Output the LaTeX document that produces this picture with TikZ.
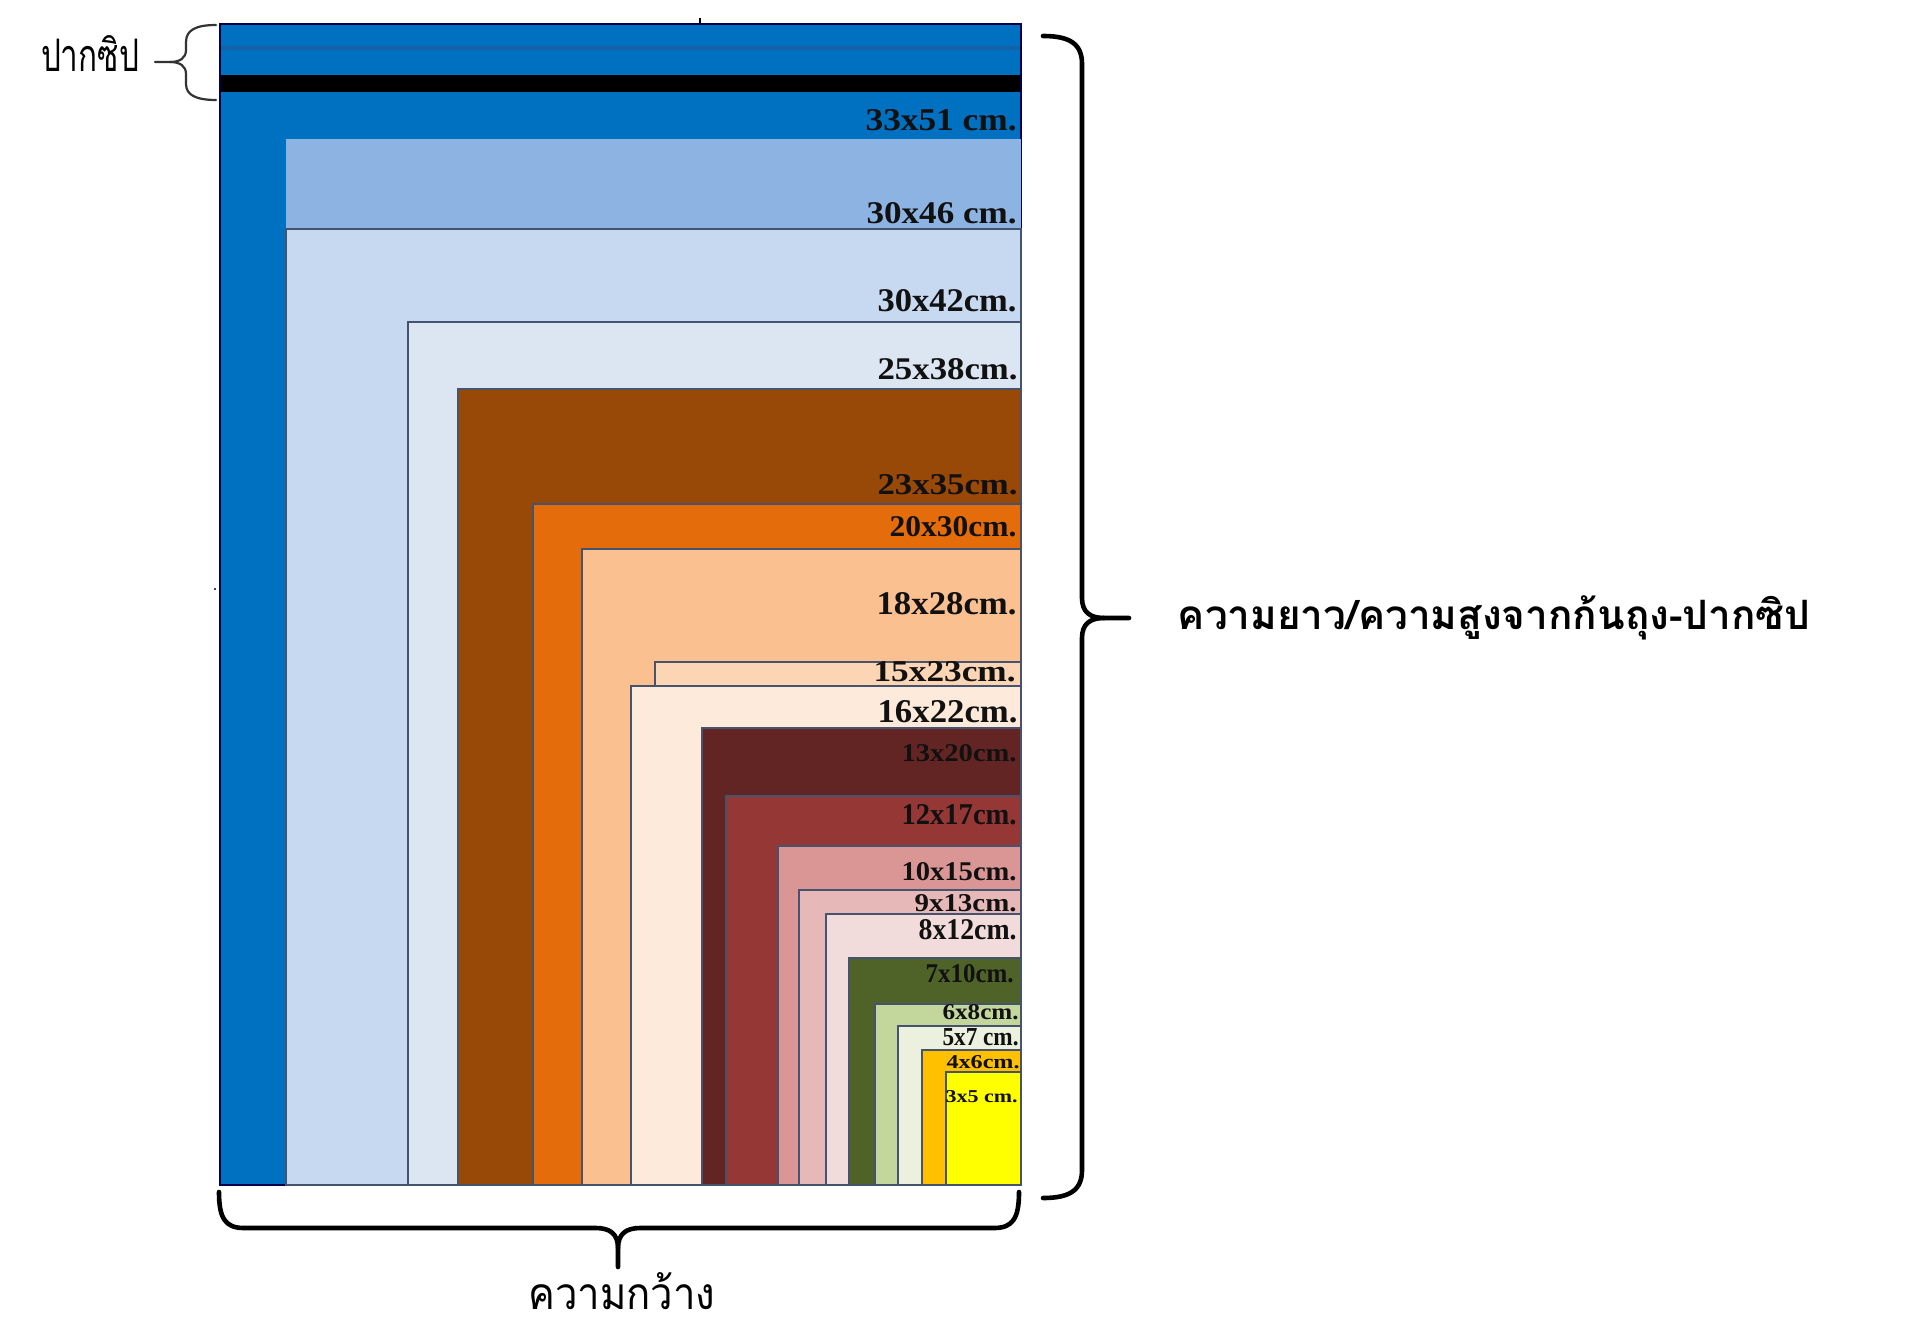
\documentclass[tikz,border=0pt]{standalone}
\usepackage{fontspec}
\usepackage{graphicx}
\setmainfont{Liberation Serif}
\newfontfamily\thaifont[Script=Thai]{Loma}
\definecolor{cA}{HTML}{0070C0}
\definecolor{cB}{HTML}{8DB3E2}
\definecolor{cC}{HTML}{C6D9F1}
\definecolor{cD}{HTML}{DCE6F2}
\definecolor{cE}{HTML}{984807}
\definecolor{cF}{HTML}{E46C0A}
\definecolor{cG}{HTML}{FAC090}
\definecolor{cH}{HTML}{FCD5B4}
\definecolor{cI}{HTML}{FDEADA}
\definecolor{cJ}{HTML}{632523}
\definecolor{cK}{HTML}{953735}
\definecolor{cL}{HTML}{D99694}
\definecolor{cM}{HTML}{E6B9B8}
\definecolor{cN}{HTML}{F2DCDB}
\definecolor{cO}{HTML}{4F6228}
\definecolor{cP}{HTML}{C3D69B}
\definecolor{cQ}{HTML}{EBF1DE}
\definecolor{cR}{HTML}{FFC000}
\definecolor{cS}{HTML}{FFFF00}
\definecolor{edgec}{HTML}{46536E}
\definecolor{zipline}{HTML}{1463A8}
\definecolor{labelc}{HTML}{111111}
\newcommand\szlbl[3]{\resizebox{#1pt}{#2pt}{\bfseries #3}}
\begin{document}
\begin{tikzpicture}[x=0.5pt,y=-0.5pt,
  bagbox/.style={fill=#1, draw=edgec, line width=0.6pt},
  lbl/.style={anchor=east, inner sep=0pt, text=labelc},
  bracec/.style={draw=black, line width=2.3pt, line cap=round, line join=round},
  smallbrace/.style={draw=black!80, line width=1.1pt, line cap=round}]
\useasboundingbox (0,0) rectangle (1920,1343);
\fill[white] (0,0) rectangle (1920,1343);
% nested bag sizes
\filldraw[fill=cA, draw=black!70!blue, line width=0.7pt] (220,24) rectangle (1021,1185);
\fill[cB] (286,139) rectangle (1021,1185);
\foreach \l/\t/\c in {286/229/cC, 408/322/cD, 458/389/cE, 533/504/cF, 582/549/cG,
  655/662/cH, 631/686/cI, 702/728/cJ, 726/796/cK, 778/846/cL, 799/890/cM,
  826/914/cN, 849/958/cO, 875/1004/cP, 898/1026/cQ, 922/1050/cR, 946/1072/cS}
  {\filldraw[bagbox=\c] (\l,\t) rectangle (1021,1185);}
% zip
\fill[zipline] (221,46) rectangle (1020,50);
\fill[black] (221,75) rectangle (1020,92);
\draw[black, line width=0.6pt] (700,18) -- (700,24);
\fill[black] (215,589) circle (1.2);
% size labels
\node[lbl] (l1) at (1017,120) {\szlbl{75.5}{10.5}{33x51 cm.}};
\node[lbl] (l2) at (1017,213) {\szlbl{75}{10.5}{30x46 cm.}};
\node[lbl] (l3) at (1017,301) {\szlbl{69.5}{11}{30x42cm.}};
\node[lbl] (l4) at (1018,369) {\szlbl{70}{10.5}{25x38cm.}};
\node[lbl] (l5) at (1018,485) {\szlbl{70}{10}{23x35cm.}};
\node[lbl] (l6) at (1017,527) {\szlbl{63.5}{10}{20x30cm.}};
\node[lbl] (l7) at (1017,604) {\szlbl{70}{11}{18x28cm.}};
\node[lbl] (l8) at (1016,672) {\szlbl{71}{10}{15x23cm.}};
\node[lbl] (l9) at (1018,712) {\szlbl{70}{11}{16x22cm.}};
\node[lbl] (l10) at (1017,753) {\szlbl{57.5}{8.5}{13x20cm.}};
\node[lbl] (l11) at (1017,815) {\szlbl{57.5}{10}{12x17cm.}};
\node[lbl] (l12) at (1017,872) {\szlbl{57.5}{9}{10x15cm.}};
\node[lbl] (l13) at (1017,903) {\szlbl{51}{8.5}{9x13cm.}};
\node[lbl] (l14) at (1017,930) {\szlbl{49}{10}{8x12cm.}};
\node[lbl] (l15) at (1014,974) {\szlbl{44}{9}{7x10cm.}};
\node[lbl] (l16) at (1019,1012) {\szlbl{38}{7.5}{6x8cm.}};
\node[lbl] (l17) at (1019,1037) {\szlbl{38}{8.5}{5x7 cm.}};
\node[lbl] (l18) at (1020,1062) {\szlbl{36.5}{6.5}{4x6cm.}};
\node[lbl] (l19) at (1018,1097) {\szlbl{36}{6}{3x5 cm.}};
% zip label and brace
\node[inner sep=0pt] (zip) at (90,54) {\resizebox{49pt}{18pt}{\thaifont ปากซิป}};
\coordinate (zT) at (216,25);
\coordinate (zB) at (216,100);
\coordinate (zTip) at (155,62);
\draw[smallbrace] (zT) .. controls (196,25) and (186,30) .. (186,42) -- (186,50) .. controls (186,58) and (180,62) .. (170,62) -- (zTip);
\draw[smallbrace] (zB) .. controls (196,100) and (186,95) .. (186,84) -- (186,74) .. controls (186,66) and (180,62) .. (170,62);
% right brace (length)
\coordinate (rT) at (1043,36);
\coordinate (rB) at (1043,1198);
\coordinate (rTip) at (1129,618);
\draw[bracec] (rT) .. controls (1070,36) and (1082,44) .. (1082,64) -- (1082,598) .. controls (1082,612) and (1090,618) .. (1104,618) -- (rTip);
\draw[bracec] (rB) .. controls (1070,1198) and (1082,1190) .. (1082,1170) -- (1082,638) .. controls (1082,624) and (1090,618) .. (1104,618);
\node[inner sep=0pt] (lenlabel) at (1494,618) {\resizebox{316pt}{!}{\thaifont\bfseries ความยาว/ความสูงจากก้นถุง-ปากซิป}};
% bottom brace (width)
\coordinate (bL) at (219,1192);
\coordinate (bR) at (1019,1192);
\coordinate (bTip) at (618,1267);
\draw[bracec] (bL) .. controls (219,1218) and (225,1228) .. (244,1228) -- (596,1228) .. controls (610,1228) and (618,1234) .. (618,1248) -- (bTip);
\draw[bracec] (bR) .. controls (1019,1218) and (1013,1228) .. (994,1228) -- (640,1228) .. controls (626,1228) and (618,1234) .. (618,1248);
\node[inner sep=0pt] (widlabel) at (622,1291) {\resizebox{93.5pt}{18.5pt}{\thaifont ความกว้าง}};
\end{tikzpicture}
\end{document}
